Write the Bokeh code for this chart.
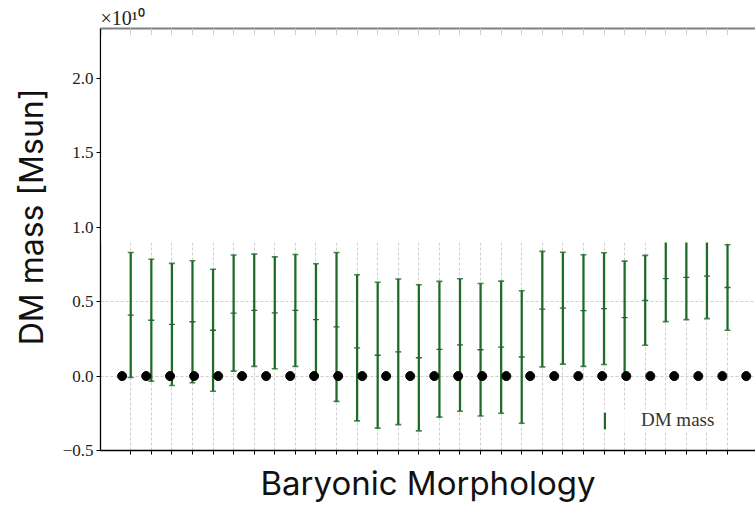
from bokeh.plotting import figure
from bokeh.models import (Range1d, FixedTicker, LinearAxis, CustomJSTickFormatter,
                          BoxAnnotation, Legend, LegendItem, ColumnDataSource)
from bokeh.embed import file_html
from bokeh.resources import INLINE

# Dark-matter mass per galaxy, in units of 1e10 Msun (centre value and symmetric error)
galaxy = list(range(30))
dm_mass = [0.41, 0.375, 0.347, 0.365, 0.308, 0.423, 0.442, 0.425, 0.441, 0.379,
           0.33, 0.19, 0.14, 0.163, 0.123, 0.18, 0.209, 0.177, 0.194, 0.128,
           0.45, 0.456, 0.44, 0.453, 0.393, 0.509, 0.654, 0.663, 0.671, 0.595]
dm_err = [0.42, 0.41, 0.41, 0.41, 0.41, 0.39, 0.377, 0.376, 0.376, 0.376,
          0.50, 0.491, 0.49, 0.489, 0.491, 0.456, 0.445, 0.445, 0.444, 0.445,
          0.388, 0.376, 0.375, 0.375, 0.379, 0.302, 0.288, 0.284, 0.285, 0.287]

# Reference points sitting on the zero line
ref_x = [-0.42, 0.75, 1.91, 3.08, 4.25, 5.41, 6.58, 7.75, 8.91, 10.08, 11.25,
         12.41, 13.58, 14.75, 15.91, 17.08, 18.25, 19.41, 20.58, 21.75, 22.91,
         24.08, 25.25, 26.41, 27.58, 28.75, 29.91]
ref_mass = [0.0] * len(ref_x)

y_ticks = [-0.5, 0.0, 0.5, 1.0, 1.5, 2.0]

GREEN = "#1d6b27"
SERIF = "Liberation Serif"
SANS = "Inter"

lo = [m - e for m, e in zip(dm_mass, dm_err)]
hi = [m + e for m, e in zip(dm_mass, dm_err)]
src = ColumnDataSource(dict(x=galaxy, mid=dm_mass, lo=lo, hi=hi))

x0, x1 = -1.47, 30.36
y0, y1 = -0.5, 2.335

p = figure(width=755, height=505, output_backend="svg", toolbar_location=None,
           x_range=Range1d(x0, x1), y_range=Range1d(y0, y1),
           min_border_left=100, min_border_right=0, min_border_top=28,
           min_border_bottom=54)
p.outline_line_color = None
p.background_fill_color = "white"
p.border_fill_color = "white"

# scale factor of the y axis, shown above the top-left corner
p.title.text = "\u00d710\u00b9\u2070"
p.title.text_font = SERIF
p.title.text_font_size = "20px"
p.title.text_font_style = "normal"
p.title.text_color = "#222222"
p.title.align = "left"
p.title.standoff = 0
p.title.offset = 0

# grids
p.xgrid.ticker = FixedTicker(ticks=galaxy)
p.ygrid.ticker = FixedTicker(ticks=y_ticks)
for g in (p.xgrid, p.ygrid):
    g.grid_line_color = "#cfcfcf"
    g.grid_line_dash = "3 2"
    g.grid_line_width = 1

# bottom axis
xa = p.xaxis[0]
xa.ticker = FixedTicker(ticks=galaxy)
xa.formatter = CustomJSTickFormatter(code="return ''")
xa.major_label_text_font_size = "0px"
xa.major_tick_out = 4
xa.major_tick_in = 0
xa.minor_tick_line_color = None
xa.axis_line_color = "black"
xa.axis_line_width = 1.3
xa.major_tick_line_color = "black"
xa.axis_label = "Baryonic Morphology"
xa.axis_label_text_font = SANS
xa.axis_label_text_font_size = "33px"
xa.axis_label_text_font_style = "normal"
xa.axis_label_text_color = "#111111"
xa.axis_label_standoff = 8

# left axis
ya = p.yaxis[0]
ya.ticker = FixedTicker(ticks=y_ticks)
ya.formatter = CustomJSTickFormatter(
    code="return (tick < 0 ? '\u2212' : '') + Math.abs(tick).toFixed(1)")
ya.major_label_text_font = SERIF
ya.major_label_text_font_size = "17px"
ya.major_label_text_color = "#222222"
ya.major_label_standoff = 3
ya.major_tick_out = 4
ya.major_tick_in = 0
ya.minor_tick_line_color = None
ya.axis_line_color = "black"
ya.axis_line_width = 1.3
ya.axis_label = "\u00a0" * 5 + "DM mass [Msun]"
ya.axis_label_text_font = SANS
ya.axis_label_text_font_size = "32px"
ya.axis_label_text_font_style = "normal"
ya.axis_label_text_color = "#111111"
ya.axis_label_standoff = 9

# top spine with inward ticks
top = LinearAxis(ticker=FixedTicker(ticks=galaxy),
                 formatter=CustomJSTickFormatter(code="return ''"),
                 major_label_text_font_size="0px", major_label_standoff=0,
                 major_tick_in=4, major_tick_out=0,
                 major_tick_line_color="#c8c8c8",
                 minor_tick_line_color=None,
                 axis_line_color="#808080", axis_line_width=2)
p.add_layout(top, "above")

# error bars: stems, caps and centre ticks
stems = p.vbar(x="x", bottom="lo", top="hi", width=0.11, source=src,
               fill_color=GREEN, line_color=None)
p.scatter(x="x", y="lo", source=src, marker="dash", size=6,
          line_color=GREEN, line_width=1.6, line_alpha=0.8)
p.scatter(x="x", y="hi", source=src, marker="dash", size=6,
          line_color=GREEN, line_width=1.6, line_alpha=0.8)
p.scatter(x="x", y="mid", source=src, marker="dash", size=6,
          line_color=GREEN, line_width=1.3)

# zero-mass reference points
p.scatter(x=ref_x, y=ref_mass, marker="circle", size=9,
          fill_color="black", line_color="black")

# blank panel over the upper part of the axes
p.add_layout(BoxAnnotation(left=x0 + 0.04, bottom=0.897, top=2.29,
                           fill_color="white", fill_alpha=1.0,
                           line_color=None, level="annotation"))

# legend
legend = Legend(items=[LegendItem(label="DM mass", renderers=[stems])],
                location=(503, 19), glyph_width=3, glyph_height=21,
                label_standoff=35, padding=10, spacing=0,
                label_text_font=SERIF, label_text_font_size="19px",
                label_text_color="#333333",
                background_fill_color="white", background_fill_alpha=0.8,
                border_line_color=None)
p.add_layout(legend)

open("out.html", "w").write(file_html(p, INLINE))
